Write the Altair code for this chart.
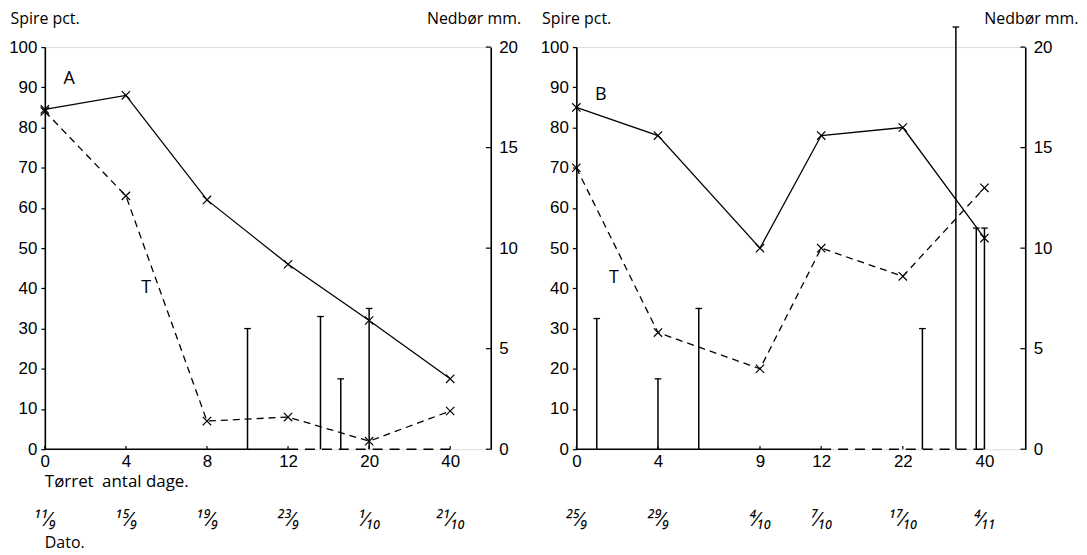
import json
import altair as alt
import pandas as pd

TEXT_FONT = "Open Sans"
NUM_FONT = "Liberation Sans"

# ---------------- data ----------------
# Panel A
a_days = ["0", "4", "8", "12", "20", "40"]
a_slot = [0, 1, 2, 3, 4, 5]
a_dates = ["11/9", "15/9", "19/9", "23/9", "1/10", "21/10"]
a_solid = [84.5, 88, 62, 46, 32, 17.5]
a_dashed = [84, 63, 7, 8, 2, 9.5]
a_rain_slot = [2.5, 3.4, 3.65, 4.0]
a_rain_mm = [6.0, 6.6, 3.5, 7.0]

# Panel B
b_days = ["0", "4", "9", "12", "22", "40"]
b_slot = [0, 1, 2.25, 3, 4, 5]
b_dates = ["25/9", "29/9", "4/10", "7/10", "17/10", "4/11"]
b_solid = [85, 78, 50, 78, 80, 52.5]
b_dashed = [70, 29, 20, 50, 43, 65]
b_rain_slot = [0.25, 1.0, 1.5, 4.24, 4.65, 4.9, 5.0]
b_rain_mm = [6.5, 3.5, 7.0, 6.0, 21.0, 11.0, 11.0]

pct_ticks = list(range(0, 101, 10))
mm_ticks = [0, 5, 10, 15, 20]

SUP = str.maketrans("0123456789", "⁰¹²³⁴⁵⁶⁷⁸⁹")
SUB = str.maketrans("0123456789", "₀₁₂₃₄₅₆₇₈₉")


def frac(s):
    d, m = s.split("/")
    return d.translate(SUP) + "⁄" + m.translate(SUB)


XMARK = "M-1,-1L1,1M-1,1L1,-1"
CAP = "M-1,0L1,0"

TXT = dict(font=TEXT_FONT, fill="black", fontWeight="normal", strokeWidth=0)
ONE = pd.DataFrame({"k": [0]})  # single row for one-off annotations


def panel(days, slots, dates, solid, dashed, rain_slot, rain_mm,
          letter, letter_xy, t_xy, width, show_xtitle, rtitle_x):
    df = pd.DataFrame({"slot": slots, "day": days,
                       "date": [frac(d) for d in dates],
                       "solid": solid, "dashed": dashed})
    rain = pd.DataFrame({"slot": rain_slot, "mm": rain_mm})
    mmt = pd.DataFrame({"mm": mm_ticks})

    xscale = alt.Scale(domain=[0, 5.5], nice=False, zero=False)
    label_expr = f"{json.dumps(days)}[indexof({json.dumps(slots)}, datum.value)]"
    xaxis = alt.Axis(values=slots, labelExpr=label_expr, domain=False, ticks=False,
                     grid=False, labelPadding=4, title=None, labelFont=NUM_FONT,
                     labelFontSize=17, labelColor="black", labelFlush=False,
                     labelOverlap=False)

    def X(field=None, value=None):
        if field is not None:
            return alt.X(field, scale=xscale, axis=xaxis)
        return alt.datum(value, scale=xscale, axis=xaxis)

    yscale = alt.Scale(domain=[0, 100], nice=False, zero=False)
    yaxis = alt.Axis(values=pct_ticks, tickSize=4, tickColor="black", domainColor="black",
                     domainWidth=1.6, tickWidth=1.2, labelPadding=4, grid=False,
                     labelFont=NUM_FONT, labelFontSize=17, labelColor="black",
                     title="Spire pct.", titleAngle=0, titleAlign="left",
                     titleBaseline="alphabetic", titleX=-35, titleY=-24,
                     titleFont=TEXT_FONT, titleFontSize=16, titleFontWeight="normal",
                     titleColor="black")

    def Y(field=None, value=None):
        if field is not None:
            return alt.Y(field, scale=yscale, axis=yaxis)
        return alt.datum(value, scale=yscale, axis=yaxis)

    solid_line = alt.Chart(df).mark_line(color="black", strokeWidth=1.3).encode(
        x=X("slot:Q"), y=Y("solid:Q"))
    dashed_line = alt.Chart(df).mark_line(color="black", strokeWidth=1.3,
                                          strokeDash=[7, 5]).encode(
        x=X("slot:Q"), y=Y("dashed:Q"))
    solid_pts = alt.Chart(df).mark_point(shape=XMARK, size=70, color="black",
                                         strokeWidth=1.2, filled=False, opacity=1).encode(
        x=X("slot:Q"), y=Y("solid:Q"))
    dashed_pts = alt.Chart(df).mark_point(shape=XMARK, size=70, color="black",
                                          strokeWidth=1.2, filled=False, opacity=1).encode(
        x=X("slot:Q"), y=Y("dashed:Q"))

    base_solid = alt.Chart(ONE).mark_rule(color="black", strokeWidth=1.5).encode(
        x=X(value=0), x2=alt.datum(3), y=Y(value=0))
    base_dash = alt.Chart(ONE).mark_rule(color="black", strokeWidth=1.5,
                                         strokeDash=[10, 7]).encode(
        x=X(value=3), x2=alt.datum(5), y=Y(value=0))
    upticks = alt.Chart(df).mark_rule(color="black", strokeWidth=1.2).encode(
        x=X("slot:Q"), y=Y(value=0), y2=alt.datum(0.8))

    date_txt = alt.Chart(df).mark_text(fontSize=20, fontStyle="italic",
                                       baseline="middle", **TXT).encode(
        x=X("slot:Q"), y=Y(value=-17.6), text="date:N")

    letter_txt = alt.Chart(ONE).mark_text(fontSize=18, baseline="middle", text=letter,
                                          **TXT).encode(
        x=X(value=letter_xy[0]), y=Y(value=letter_xy[1]))
    t_txt = alt.Chart(ONE).mark_text(fontSize=18, baseline="middle", text="T",
                                     **TXT).encode(
        x=X(value=t_xy[0]), y=Y(value=t_xy[1]))

    pct_layers = [solid_line, dashed_line, solid_pts, dashed_pts, base_solid, base_dash,
                  upticks, date_txt, letter_txt, t_txt]
    if show_xtitle:
        xt = alt.Chart(ONE).mark_text(fontSize=17, align="left", baseline="middle",
                                      text="Tørret\u2002antal dage.", **TXT).encode(
            x=X(value=0), y=Y(value=-8.2))
        dt = alt.Chart(ONE).mark_text(fontSize=16, align="left", baseline="middle",
                                      text="Dato.", **TXT).encode(
            x=X(value=0), y=Y(value=-23.3))
        pct_layers += [xt, dt]
    pct = alt.layer(*pct_layers)

    mmscale = alt.Scale(domain=[0, 20], nice=False, zero=False)
    mmaxis = alt.Axis(orient="right", values=mm_ticks, ticks=False, domainColor="black",
                      domainWidth=1.6, labelPadding=8, grid=False, labelFont=NUM_FONT,
                      labelFontSize=17, labelColor="black", title="Nedbør mm.",
                      titleAngle=0, titleAlign="right", titleBaseline="alphabetic",
                      titleX=rtitle_x, titleY=-24, titleFont=TEXT_FONT, titleFontSize=16,
                      titleFontWeight="normal", titleColor="black")

    def M(field):
        return alt.Y(field, scale=mmscale, axis=mmaxis)

    bars = alt.Chart(rain).mark_rule(color="black", strokeWidth=1.5).encode(
        x=X("slot:Q"), y=M("mm:Q"), y2=alt.datum(0))
    caps = alt.Chart(rain).mark_point(shape=CAP, size=45, color="black", strokeWidth=1.3,
                                      filled=False, opacity=1).encode(
        x=X("slot:Q"), y=M("mm:Q"))
    rticks = alt.Chart(mmt).mark_rule(color="black", strokeWidth=1.2).encode(
        x=X(value=5.44), x2=alt.datum(5.5), y=M("mm:Q"))
    mm = alt.layer(bars, caps, rticks)

    return alt.layer(pct, mm).resolve_scale(y="independent").properties(
        width=width, height=404)


A = panel(a_days, a_slot, a_dates, a_solid, a_dashed, a_rain_slot, a_rain_mm,
          "A", (0.3, 92), (1.25, 40), 448, True, 30)
B = panel(b_days, b_slot, b_dates, b_solid, b_dashed, b_rain_slot, b_rain_mm,
          "B", (0.3, 88), (0.46, 42.5), 451, False, 53)

chart = alt.hconcat(A, B, spacing=18).properties(
    padding={"left": 0, "top": 0, "right": 0, "bottom": 0}
).configure_view(stroke=None).configure(background="white")

chart.save("out.html", embed_options={"renderer": "svg", "actions": False})
